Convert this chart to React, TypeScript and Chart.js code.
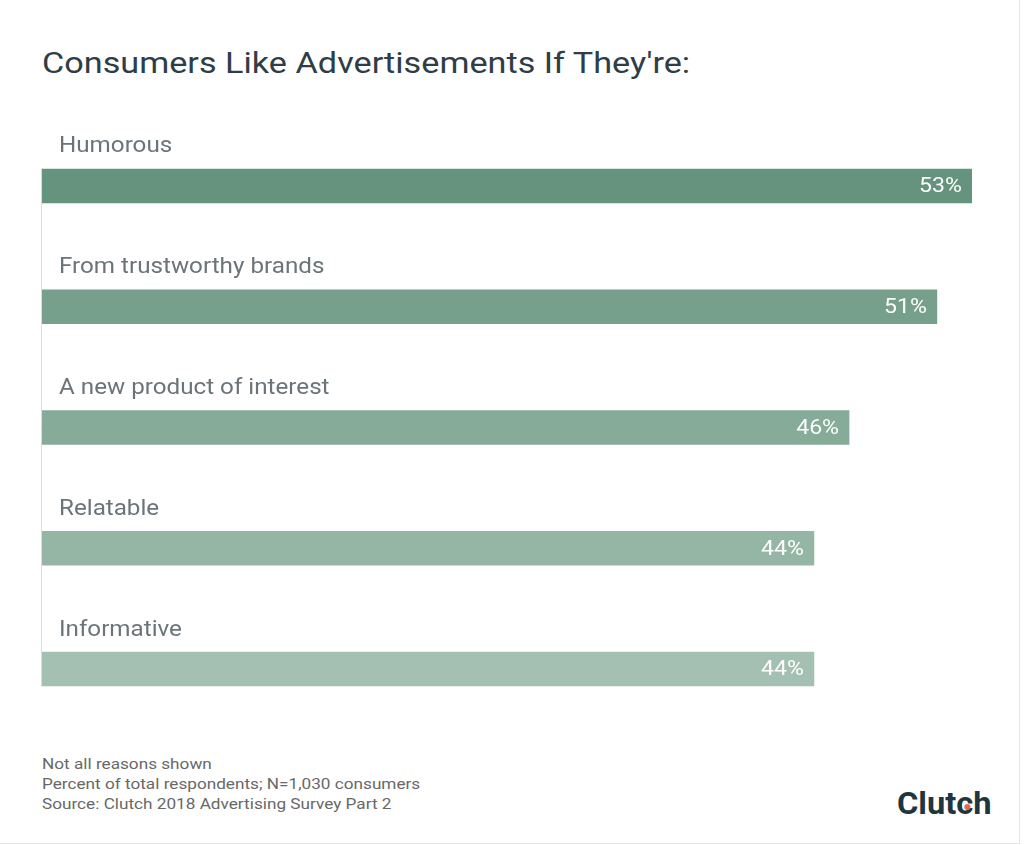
import { useEffect, useRef } from 'react'
import { Chart, registerables, type ChartConfiguration, type Plugin } from 'chart.js'

Chart.register(...registerables)

const categories = ['Humorous', 'From trustworthy brands', 'A new product of interest', 'Relatable', 'Informative']
const shares = [53, 51, 46, 44, 44]
const barColors = ['#66937d', '#76a08b', '#86ab98', '#95b6a5', '#a4c0b2']
const footnotes = [
  'Not all reasons shown',
  'Percent of total respondents; N=1,030 consumers',
  'Source: Clutch 2018 Advertising Survey Part 2',
]

// the source image is a bit stretched sideways, so text gets widened too
const STRETCH = 1.1

function wideText(ctx: CanvasRenderingContext2D, text: string, x: number, y: number) {
  ctx.save()
  ctx.translate(x, y)
  ctx.scale(STRETCH, 1)
  ctx.fillText(text, 0, 0)
  ctx.restore()
}

// category names above each bar, value inside the bar's end, and the thin left rule
const barText: Plugin<'bar'> = {
  id: 'barText',
  afterDatasetsDraw(chart) {
    const { ctx } = chart
    const bars = chart.getDatasetMeta(0).data as any[]
    if (!bars.length) return
    ctx.save()
    const first = bars[0]
    const last = bars[bars.length - 1]
    ctx.strokeStyle = '#dcdcdc'
    ctx.lineWidth = 1
    ctx.beginPath()
    ctx.moveTo(first.base + 0.5, first.y - first.height / 2)
    ctx.lineTo(first.base + 0.5, last.y + last.height / 2)
    ctx.stroke()

    bars.forEach((bar, i) => {
      ctx.textBaseline = 'middle'
      ctx.font = '22px Roboto'
      ctx.fillStyle = '#6b7479'
      ctx.textAlign = 'left'
      wideText(ctx, categories[i], bar.base + 18, bar.y - 39)

      ctx.font = '21px Roboto'
      ctx.fillStyle = '#ffffff'
      ctx.textAlign = 'right'
      wideText(ctx, `${shares[i]}%`, bar.x - 10, bar.y + 1)
    })
    ctx.restore()
  },
}

function LikesChart() {
  const ref = useRef<HTMLCanvasElement>(null)

  useEffect(() => {
    if (!ref.current) return
    const config: ChartConfiguration<'bar'> = {
      type: 'bar',
      data: {
        labels: categories,
        datasets: [{
          data: shares,
          backgroundColor: barColors,
          barThickness: 34,
          borderWidth: 0,
        }],
      },
      options: {
        indexAxis: 'y',
        animation: false,
        responsive: false,
        maintainAspectRatio: false,
        layout: { padding: { left: 41, right: 52, top: 25.6, bottom: 20.6 } },
        plugins: {
          legend: { display: false },
          tooltip: { enabled: false },
        },
        scales: {
          x: { display: false, min: 0, max: 53 },
          y: { display: false, offset: true },
        },
      },
      plugins: [barText],
    }
    const chart = new Chart(ref.current, config)
    return () => chart.destroy()
  }, [])

  return <canvas ref={ref} width={1024} height={650} style={{ position: 'absolute', left: 0, top: 100, width: 1024, height: 650 }} />
}

export default function App() {
  return (
    <div style={{
      position: 'absolute', left: 0, top: 0, width: 1019, height: 843,
      background: '#fff', borderRight: '1px solid #e4e4e4', borderBottom: '1px solid #e4e4e4',
      fontFamily: 'Roboto, sans-serif', overflow: 'hidden',
    }}>
      <div style={{
        position: 'absolute', left: 42, top: 46, fontSize: 29, color: '#2f3e46', whiteSpace: 'nowrap',
        transform: 'scaleX(1.18)', transformOrigin: 'left center',
      }}>
        Consumers Like Advertisements If They're:
      </div>
      <LikesChart />
      <div style={{
        position: 'absolute', left: 42, top: 754, fontSize: 15, lineHeight: '20px', color: '#686868', whiteSpace: 'nowrap',
        transform: 'scaleX(1.145)', transformOrigin: 'left center',
      }}>
        {footnotes.map(t => <div key={t}>{t}</div>)}
      </div>
      <div style={{
        position: 'absolute', left: 897, top: 784, fontSize: 32, fontWeight: 700, color: '#1f3540', lineHeight: '38px',
        transform: 'scaleX(1.02)', transformOrigin: 'left center',
      }}>
        Clutch
        <span style={{ position: 'absolute', left: 66, top: 20, width: 6, height: 6, borderRadius: 3, background: '#e8665a' }} />
      </div>
    </div>
  )
}
